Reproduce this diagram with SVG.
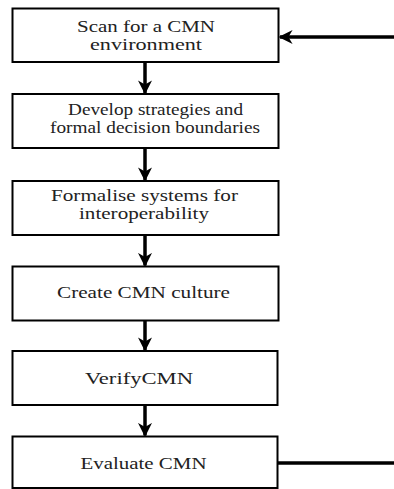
<svg xmlns="http://www.w3.org/2000/svg" width="394" height="489" viewBox="0 0 394 489">
<style>
.box{fill:#fff;stroke:#000;stroke-width:2}
.t{font-family:"Liberation Serif","Times New Roman",serif;font-size:16.5px;fill:#222;text-anchor:middle}
.c{stroke:#000;stroke-width:3.5;fill:none}
</style>
<defs>
<marker id="ah" viewBox="0 0 10 10" refX="9" refY="5" markerWidth="4" markerHeight="4" orient="auto" markerUnits="strokeWidth">
<path d="M0,0 L10,5 L0,10 L3,5 z" fill="#000"/>
</marker>
</defs>
<rect width="394" height="489" fill="#fff"/>
<g id="n1"><rect class="box" x="12.5" y="8.5" width="266" height="53.5"/>
<text class="t" x="146" y="32" textLength="138" lengthAdjust="spacingAndGlyphs">Scan for a CMN</text>
<text class="t" x="146" y="50" textLength="112" lengthAdjust="spacingAndGlyphs">environment</text></g>
<g id="n2"><rect class="box" x="12.5" y="94" width="266" height="54"/>
<text class="t" x="155.5" y="115" textLength="175" lengthAdjust="spacingAndGlyphs">Develop strategies and</text>
<text class="t" x="155" y="133" textLength="210" lengthAdjust="spacingAndGlyphs">formal decision boundaries</text></g>
<g id="n3"><rect class="box" x="12.5" y="181" width="266" height="54"/>
<text class="t" x="144.5" y="201" textLength="187" lengthAdjust="spacingAndGlyphs">Formalise systems for</text>
<text class="t" x="144" y="219" textLength="130" lengthAdjust="spacingAndGlyphs">interoperability</text></g>
<g id="n4"><rect class="box" x="12.5" y="266.5" width="266" height="54"/>
<text class="t" x="143.5" y="298" textLength="173" lengthAdjust="spacingAndGlyphs">Create CMN culture</text></g>
<g id="n5"><rect class="box" x="12.5" y="351" width="265" height="54"/>
<text class="t" x="139" y="384" textLength="108" lengthAdjust="spacingAndGlyphs">VerifyCMN</text></g>
<g id="n6"><rect class="box" x="12.5" y="436.5" width="265" height="51.5"/>
<text class="t" x="143.5" y="469" textLength="126" lengthAdjust="spacingAndGlyphs">Evaluate CMN</text></g>
<g id="connectors">
<line class="c" x1="145" y1="62" x2="145" y2="93" marker-end="url(#ah)"/>
<line class="c" x1="145" y1="148" x2="145" y2="180" marker-end="url(#ah)"/>
<line class="c" x1="145" y1="235" x2="145" y2="265.5" marker-end="url(#ah)"/>
<line class="c" x1="145" y1="320.5" x2="145" y2="350" marker-end="url(#ah)"/>
<line class="c" x1="145" y1="405" x2="145" y2="435.5" marker-end="url(#ah)"/>
<line class="c" x1="278" y1="463" x2="394" y2="463"/>
<line class="c" x1="394" y1="37" x2="280" y2="37" marker-end="url(#ah)"/>
</g>
</svg>
